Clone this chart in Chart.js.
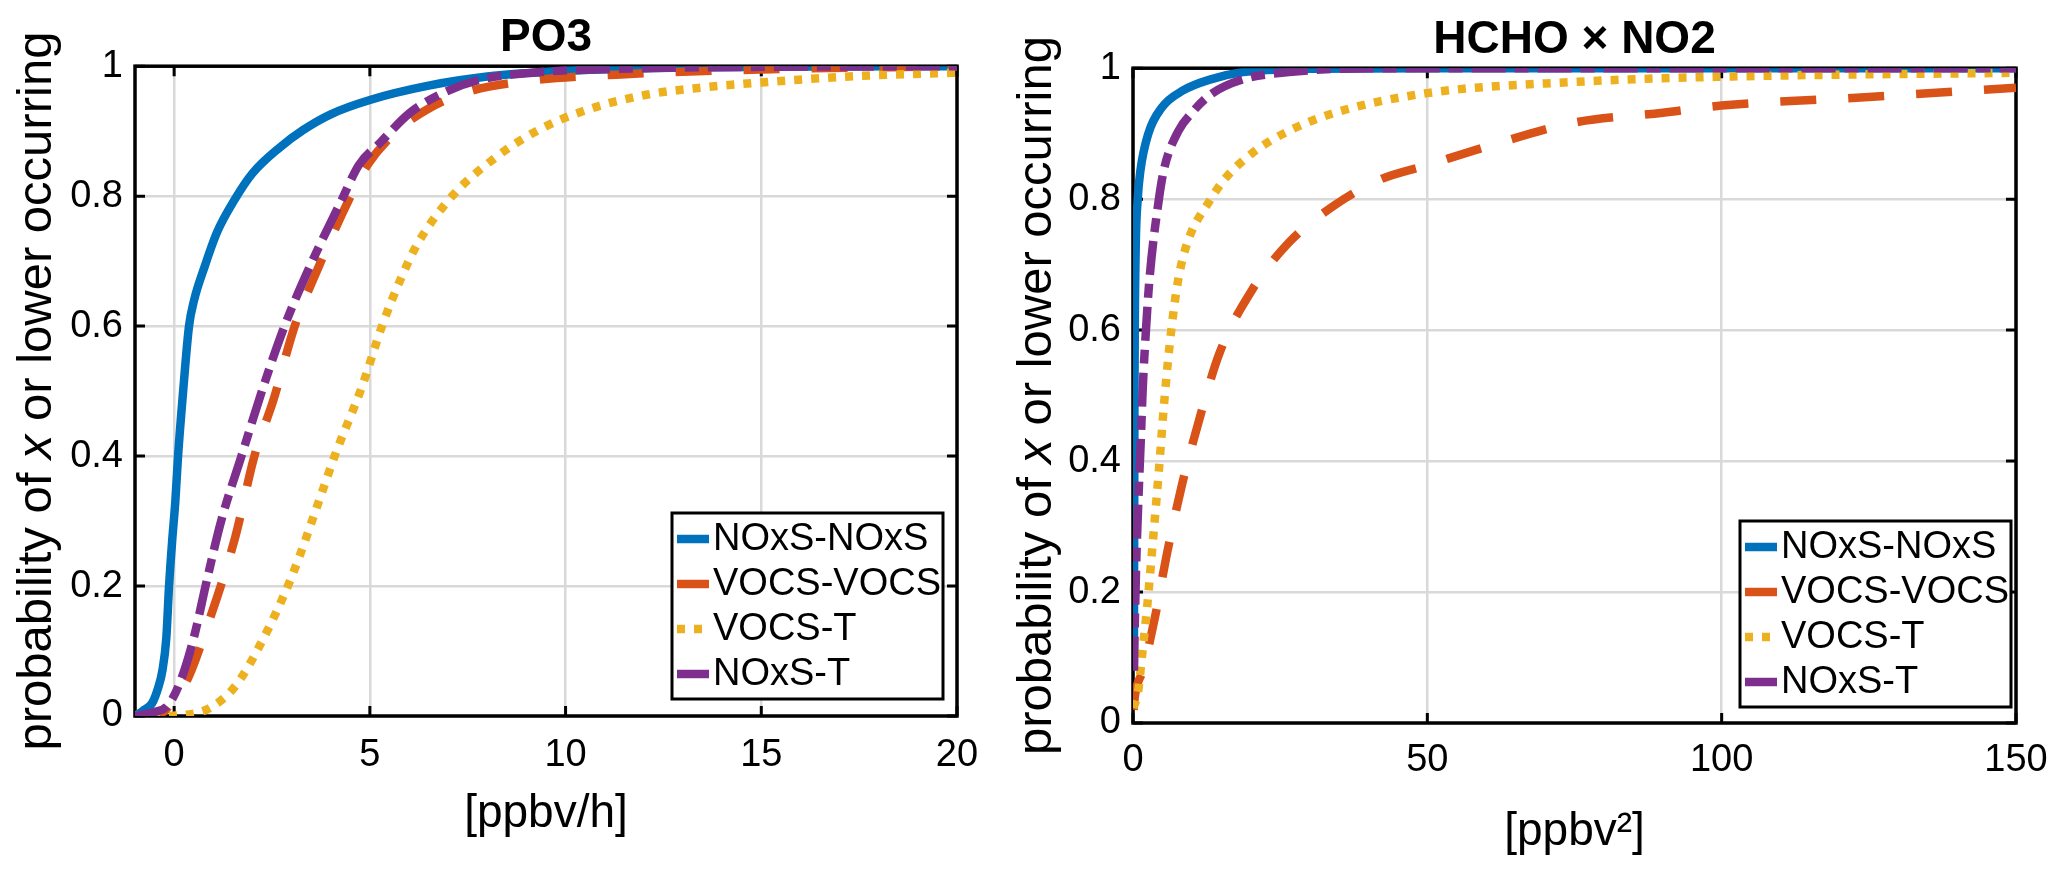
<!DOCTYPE html>
<html>
<head>
<meta charset="utf-8">
<script src="https://cdn.jsdelivr.net/npm/chart.js@4.4.1/dist/chart.umd.min.js"></script>
<style>
  html, body { margin: 0; padding: 0; background: #fff; }
  #wrap { position: relative; width: 2067px; height: 872px; }
  .box { position: absolute; top: 0; height: 872px; }
  #boxL { left: 0; width: 1000px; }
  #boxR { left: 1000px; width: 1067px; }
</style>
</head>
<body>
<div id="wrap">
  <div class="box" id="boxL"><canvas id="po3"></canvas></div>
  <div class="box" id="boxR"><canvas id="hcho"></canvas></div>
</div>
<script>
// ---- data ----
const seriesNames = ['NOxS-NOxS', 'VOCS-VOCS', 'VOCS-T', 'NOxS-T'];
const probTicks = [0, 0.2, 0.4, 0.6, 0.8, 1];

// left panel, PO3 [ppbv/h]
const po3Ticks = [0, 5, 10, 15, 20];
const po3NoxsNoxsX = [-1, -0.8, -0.56, -0.4, -0.3, -0.2, -0.13, -0.05, 0.03, 0.1, 0.23, 0.38, 0.51, 0.77, 1.1, 1.55, 2.0, 2.7, 3.3, 4.0, 5.0, 6.5, 8.0, 10, 12, 15, 20];
const po3NoxsNoxsY = [0, 0.008, 0.02, 0.045, 0.07, 0.12, 0.2, 0.27, 0.33, 0.4, 0.5, 0.6, 0.64, 0.69, 0.745, 0.795, 0.835, 0.875, 0.902, 0.926, 0.948, 0.97, 0.984, 0.993, 0.997, 0.999, 1];
const po3VocsVocsX = [-1, -0.3, -0.08, 0.33, 0.8, 1.56, 2.05, 2.54, 3.08, 3.69, 4.46, 4.94, 5.69, 6.45, 7.53, 9.15, 11.3, 15, 20];
const po3VocsVocsY = [0, 0.005, 0.02, 0.055, 0.13, 0.275, 0.4, 0.487, 0.6, 0.691, 0.794, 0.848, 0.9, 0.933, 0.961, 0.978, 0.987, 0.995, 1];
const po3VocsTX = [-1, -0.5, 0.33, 0.9, 1.55, 2.2, 3.0, 3.77, 4.1, 4.8, 5.31, 5.82, 6.23, 7.1, 8.07, 9.25, 10.55, 12.06, 13.47, 15, 17.5, 20];
const po3VocsTY = [0, 0, 0.002, 0.012, 0.045, 0.11, 0.214, 0.343, 0.4, 0.507, 0.6, 0.677, 0.728, 0.8, 0.853, 0.9, 0.933, 0.956, 0.967, 0.975, 0.985, 0.99];
const po3NoxsTX = [-1, -0.5, -0.15, 0.17, 0.5, 0.84, 1.2, 1.72, 2.28, 2.82, 3.46, 4.28, 4.72, 5.26, 6.0, 6.77, 7.74, 9.15, 12, 15, 20];
const po3NoxsTY = [0, 0.006, 0.017, 0.055, 0.12, 0.21, 0.3, 0.4, 0.507, 0.6, 0.691, 0.794, 0.848, 0.882, 0.927, 0.956, 0.978, 0.99, 0.997, 0.999, 1];

// right panel, HCHO x NO2 [ppbv^2]
const hchoTicks = [0, 50, 100, 150];
const hchoNoxsNoxsX = [0.15, 0.2, 0.25, 0.3, 0.47, 0.8, 1.25, 2.6, 4.9, 8.5, 13.2, 18.7, 30, 50, 150];
const hchoNoxsNoxsY = [0.08, 0.3, 0.5, 0.6, 0.73, 0.8, 0.843, 0.9, 0.94, 0.966, 0.983, 0.994, 0.999, 1, 1];
const hchoVocsVocsX = [0.1, 0.3, 1.7, 3.7, 5.8, 8.3, 10.9, 14.7, 20.2, 26.5, 34.3, 42, 50, 60, 75, 90, 100, 125, 150];
const hchoVocsVocsY = [0.02, 0.04, 0.081, 0.16, 0.26, 0.363, 0.452, 0.565, 0.661, 0.734, 0.791, 0.83, 0.852, 0.88, 0.917, 0.932, 0.943, 0.956, 0.97];
const hchoVocsTX = [0.05, 0.85, 1.5, 2.4, 3.4, 4.4, 5.3, 6.5, 7.7, 9.25, 13.2, 15.5, 20.2, 26.4, 34.3, 50, 75, 100, 150];
const hchoVocsTY = [0.023, 0.047, 0.1, 0.177, 0.28, 0.386, 0.49, 0.6, 0.678, 0.734, 0.8, 0.83, 0.87, 0.904, 0.932, 0.962, 0.979, 0.987, 0.993];
const hchoNoxsTX = [0.15, 0.3, 0.6, 1.0, 1.36, 1.65, 2.2, 2.8, 4.4, 5.3, 7.7, 10, 13.2, 18.7, 26.5, 40, 150];
const hchoNoxsTY = [0.08, 0.15, 0.26, 0.36, 0.44, 0.51, 0.6, 0.678, 0.8, 0.847, 0.904, 0.932, 0.96, 0.983, 0.994, 1, 1];

// ---- styles ----
const FONT = '"Liberation Sans", Arial, Helvetica, sans-serif';
const lineStyles = [
  { color: '#0072BD', dash: [] },
  { color: '#D95319', dash: [36, 32] },
  { color: '#EDB120', dash: [8, 9] },
  { color: '#7E2F8E', dash: [34, 9, 14, 9] }
];

function buildDatasets(xsList, ysList) {
  return xsList.map((xs, i) => ({
    label: seriesNames[i],
    data: xs.map((x, k) => ({ x: x, y: ysList[i][k] })),
    borderColor: lineStyles[i].color,
    backgroundColor: lineStyles[i].color,
    borderWidth: 8.5,
    borderDash: lineStyles[i].dash,
    borderCapStyle: 'butt',
    borderJoinStyle: 'round',
    pointRadius: 0,
    fill: false,
    cubicInterpolationMode: 'monotone',
    order: 4 - i   // purple drawn on top, like the plot order
  }));
}

// box, inward ticks, y label with italic x, and the boxed legend
const matlabLook = {
  id: 'matlab',
  beforeDatasetsDraw(chart, args, opts) {
    const { ctx, chartArea: a, scales: { x, y } } = chart;
    ctx.save();
    ctx.strokeStyle = '#000';
    ctx.lineWidth = 3;
    ctx.beginPath();
    x.ticks.forEach(t => {
      const px = x.getPixelForValue(t.value);
      ctx.moveTo(px, a.bottom); ctx.lineTo(px, a.bottom - 10);
      ctx.moveTo(px, a.top); ctx.lineTo(px, a.top + 10);
    });
    y.ticks.forEach(t => {
      const py = y.getPixelForValue(t.value);
      ctx.moveTo(a.left, py); ctx.lineTo(a.left + 10, py);
      ctx.moveTo(a.right, py); ctx.lineTo(a.right - 10, py);
    });
    ctx.stroke();
    ctx.lineWidth = 3.5;
    ctx.strokeRect(a.left, a.top, a.right - a.left, a.bottom - a.top);

    // y label
    const size = 49;
    const parts = [['probability of ', 'normal'], ['x', 'italic'], [' or lower occurring', 'normal']];
    let total = 0;
    parts.forEach(p => { ctx.font = p[1] + ' ' + size + 'px ' + FONT; p.push(ctx.measureText(p[0]).width); total += p[2]; });
    ctx.translate(opts.ylabelX, (a.top + a.bottom) / 2);
    ctx.rotate(-Math.PI / 2);
    ctx.fillStyle = '#000';
    ctx.textBaseline = 'alphabetic';
    ctx.textAlign = 'left';
    let cx = -total / 2;
    parts.forEach(p => { ctx.font = p[1] + ' ' + size + 'px ' + FONT; ctx.fillText(p[0], cx, 0); cx += p[2]; });
    ctx.restore();
  },
  afterDatasetsDraw(chart, args, opts) {
    const { ctx, chartArea: a } = chart;
    const L = opts.legend;
    const bx = a.right - L.right - L.w;
    const by = a.bottom - L.bottom - L.h;
    ctx.save();
    ctx.fillStyle = '#fff';
    ctx.fillRect(bx, by, L.w, L.h);
    ctx.strokeStyle = '#000';
    ctx.lineWidth = 3;
    ctx.strokeRect(bx, by, L.w, L.h);
    ctx.font = '38px ' + FONT;
    ctx.textBaseline = 'middle';
    chart.data.datasets.forEach((ds, i) => {
      const cy = by + 26 + i * 45;
      ctx.save();
      ctx.strokeStyle = ds.borderColor;
      ctx.lineWidth = ds.borderWidth;
      ctx.setLineDash(ds.borderDash);
      ctx.lineCap = 'butt';
      ctx.beginPath();
      ctx.moveTo(bx + 5, cy);
      ctx.lineTo(bx + 37, cy);
      ctx.stroke();
      ctx.restore();
      ctx.fillStyle = '#000';
      ctx.fillText(ds.label, bx + 41, cy + 1);
    });
    ctx.restore();
  }
};

function makeChart(id, p) {
  return new Chart(document.getElementById(id), {
    type: 'line',
    data: { datasets: buildDatasets(p.xs, p.ys) },
    plugins: [matlabLook],
    options: {
      responsive: true,
      maintainAspectRatio: false,
      animation: false,
      events: [],
      layout: { padding: { left: 0, right: p.padRight, top: 0, bottom: 0 } },
      plugins: {
        legend: { display: false },
        tooltip: { enabled: false },
        title: {
          display: true,
          text: p.title,
          fullSize: false,
          color: '#000',
          font: { family: FONT, size: 46, weight: 'bold', lineHeight: 1.2 },
          padding: { top: p.titleTop, bottom: 0 }
        },
        matlab: { ylabelX: 51, legend: p.legend }
      },
      scales: {
        x: {
          type: 'linear',
          min: p.xMin,
          max: p.xMax,
          afterBuildTicks: s => { s.ticks = p.xTicks.map(v => ({ value: v })); },
          afterFit: s => { s.height = p.xAxisHeight; },
          ticks: { color: '#000', font: { family: FONT, size: 38 }, padding: p.xTickPad, maxRotation: 0, autoSkip: false },
          grid: { color: '#d9d9d9', lineWidth: 2.5, drawTicks: false },
          border: { display: false },
          title: {
            display: true,
            text: p.xLabel,
            color: '#000',
            font: { family: FONT, size: 46, lineHeight: 1.2 },
            padding: { top: 0, bottom: p.xLabelBottom }
          }
        },
        y: {
          type: 'linear',
          min: 0,
          max: 1,
          afterBuildTicks: s => { s.ticks = probTicks.map(v => ({ value: v })); },
          afterFit: s => { s.width = p.yAxisWidth; },
          ticks: {
            color: '#000', font: { family: FONT, size: 38 }, padding: 12,
            callback: v => (v === 0 || v === 1) ? String(v) : v.toFixed(1)
          },
          grid: { color: '#d9d9d9', lineWidth: 2.5, drawTicks: false },
          border: { display: false }
        }
      }
    }
  });
}

makeChart('po3', {
  title: 'PO3',
  xs: [po3NoxsNoxsX, po3VocsVocsX, po3VocsTX, po3NoxsTX],
  ys: [po3NoxsNoxsY, po3VocsVocsY, po3VocsTY, po3NoxsTY],
  xMin: -1, xMax: 20, xTicks: po3Ticks, xLabel: '[ppbv/h]',
  padRight: 43, titleTop: 11, xAxisHeight: 156, xTickPad: 17, xLabelBottom: 30,
  yAxisWidth: 135,
  legend: { right: 14, bottom: 17, w: 271, h: 186 }
});

makeChart('hcho', {
  title: 'HCHO \u00d7 NO2',
  xs: [hchoNoxsNoxsX, hchoVocsVocsX, hchoVocsTX, hchoNoxsTX],
  ys: [hchoNoxsNoxsY, hchoVocsVocsY, hchoVocsTY, hchoNoxsTY],
  xMin: 0, xMax: 150, xTicks: hchoTicks, xLabel: '[ppbv\u00b2]',
  padRight: 51, titleTop: 13, xAxisHeight: 149, xTickPad: 15, xLabelBottom: 12,
  yAxisWidth: 133,
  legend: { right: 5, bottom: 16, w: 271, h: 186 }
});
</script>
</body>
</html>
